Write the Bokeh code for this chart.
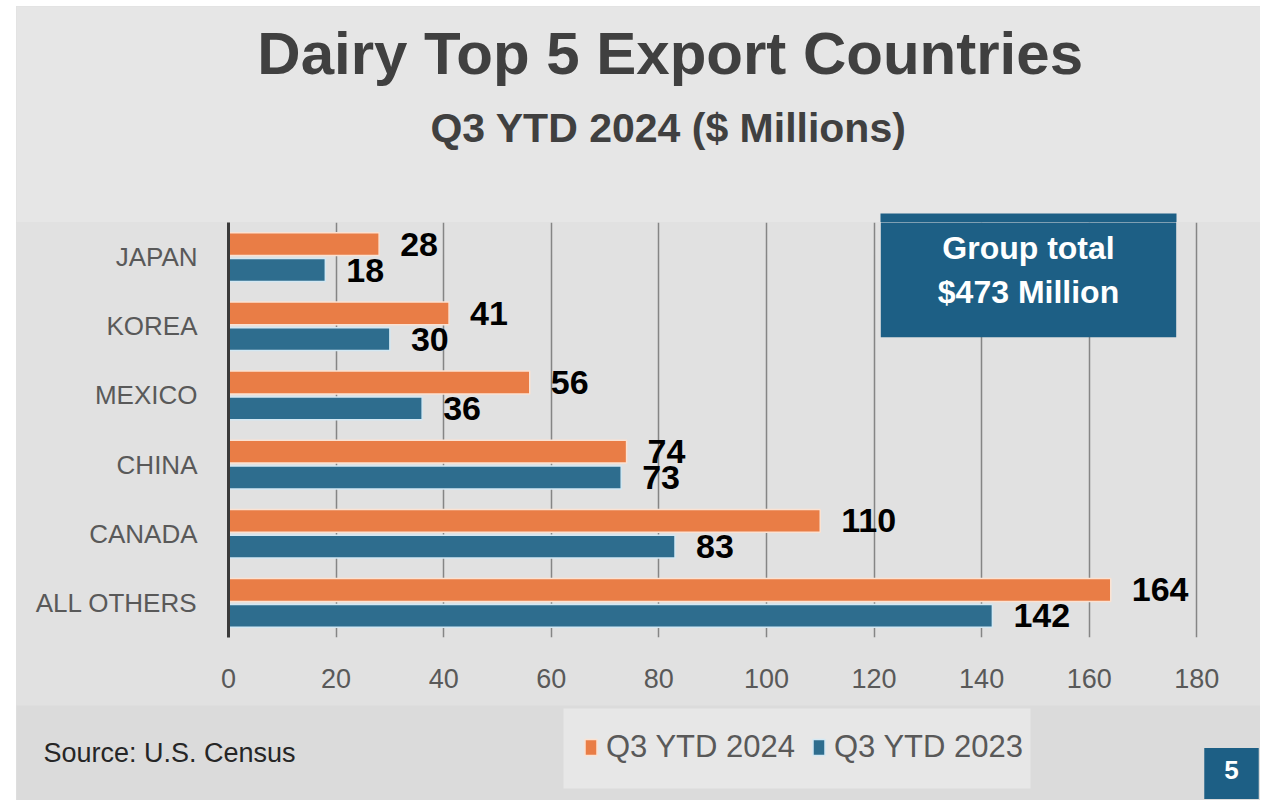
from bokeh.plotting import figure
from bokeh.layouts import column
from bokeh.models import (ColumnDataSource, FactorRange, Range1d, Label, Legend,
                          LegendItem, FixedTicker, BoxAnnotation)
from bokeh.transform import dodge
from bokeh.embed import file_html
from bokeh.resources import INLINE
from bokeh.core.properties import value

# ---- data ----
categories = ["JAPAN", "KOREA", "MEXICO", "CHINA", "CANADA", "ALL OTHERS"]
ytd_2024 = [28, 41, 56, 74, 110, 164]
ytd_2023 = [18, 30, 36, 73, 83, 142]
series_names = ["Q3 YTD 2024", "Q3 YTD 2023"]
x_ticks = [0, 20, 40, 60, 80, 100, 120, 140, 160, 180]
title_text = "Dairy  Top 5 Export Countries"
subtitle_text = "Q3 YTD 2024 ($ Millions)"
source_text = "Source: U.S. Census"
callout_text = "Group total\n$473 Million"
page_number = "5"

ORANGE = "#E97D46"
BLUE = "#2E6D8E"
DARKBLUE = "#1D5F85"
BG_TOP = "#e6e6e6"
BG_MID = "#e1e1e1"
BG_BOT = "#dbdbdb"
FONT = "Liberation Sans"
W = 1244

src = ColumnDataSource(dict(cat=categories, v24=ytd_2024, v23=ytd_2023,
                            l24=[str(v) for v in ytd_2024],
                            l23=[str(v) for v in ytd_2023]))


def blank(h, bg, **kw):
    f = figure(width=W, height=h, output_backend="svg", toolbar_location=None,
               x_axis_location=None, y_axis_location=None, min_border=0,
               frame_align=False, **kw)
    f.background_fill_color = bg
    f.border_fill_color = bg
    f.outline_line_color = None
    f.xgrid.visible = False
    f.ygrid.visible = False
    return f


# ---------- top: titles ----------
top = blank(216, BG_TOP, x_range=Range1d(0, 1), y_range=Range1d(0, 1))
top.add_layout(Label(x=662, y=169, x_units="screen", y_units="screen", text=title_text,
                     text_align="center", text_baseline="alphabetic",
                     text_font=FONT, text_font_style="bold", text_font_size="60px",
                     text_color="#404040"))
top.add_layout(Label(x=652, y=95, x_units="screen", y_units="screen", text=subtitle_text,
                     text_align="center", text_baseline="alphabetic",
                     text_font=FONT, text_font_style="bold", text_font_size="41px",
                     text_color="#404040"))
# upper edge of the callout box, which rises slightly above the plot frame
top.add_layout(BoxAnnotation(left=864, right=1160, bottom=0, top=9,
                             left_units="screen", right_units="screen",
                             bottom_units="screen", top_units="screen",
                             fill_color=DARKBLUE, fill_alpha=1, line_color=None))

# ---------- main chart ----------
p = figure(width=W, height=483, output_backend="svg", toolbar_location=None,
           y_range=FactorRange(factors=categories[::-1], range_padding=0),
           x_range=Range1d(0, 180.5), frame_align=False,
           min_border_left=212, min_border_right=61, min_border_top=0,
           min_border_bottom=68)
p.background_fill_color = BG_MID
p.border_fill_color = BG_MID
p.outline_line_color = None

r24 = p.hbar(y=dodge("cat", 0.187, range=p.y_range), right="v24", height=0.33,
             source=src, fill_color=ORANGE, line_color="#fbe2d2", line_width=1.5)
r23 = p.hbar(y=dodge("cat", -0.187, range=p.y_range), right="v23", height=0.33,
             source=src, fill_color=BLUE, line_color="#d3e8f3", line_width=1.5)

p.text(x="v24", y=dodge("cat", 0.187, range=p.y_range), text="l24", source=src,
       x_offset=21, text_baseline="middle", text_align="left",
       text_font=value(FONT), text_font_style="bold", text_font_size="34px",
       text_color="#000000")
p.text(x="v23", y=dodge("cat", -0.187, range=p.y_range), text="l23", source=src,
       x_offset=21, text_baseline="middle", text_align="left",
       text_font=value(FONT), text_font_style="bold", text_font_size="34px",
       text_color="#000000")

p.xaxis.ticker = FixedTicker(ticks=x_ticks)
p.xaxis.axis_line_color = None
p.xaxis.major_tick_line_color = None
p.xaxis.minor_tick_line_color = None
p.xaxis.major_tick_out = 0
p.xaxis.major_label_standoff = 31
p.xaxis.major_label_text_font = FONT
p.xaxis.major_label_text_font_size = "27px"
p.xaxis.major_label_text_color = "#595959"

p.yaxis.axis_line_color = "#3a3a3a"
p.yaxis.axis_line_width = 3
p.yaxis.major_tick_line_color = None
p.yaxis.major_tick_out = 0
p.yaxis.major_label_standoff = 31
p.yaxis.major_label_text_font = FONT
p.yaxis.major_label_text_font_size = "26px"
p.yaxis.major_label_text_color = "#595959"

p.xgrid.ticker = FixedTicker(ticks=x_ticks[1:])
p.xgrid.grid_line_color = "#858585"
p.xgrid.grid_line_width = 1.5
p.ygrid.visible = False

p.add_layout(Label(x=800, y=362, x_units="screen", y_units="screen", text=callout_text,
                   text_align="center", text_baseline="middle",
                   text_font=FONT, text_font_style="bold", text_font_size="32px",
                   text_color="#ffffff", text_line_height=1.23,
                   background_fill_color=DARKBLUE, background_fill_alpha=1,
                   padding=dict(left=57, right=57, top=16, bottom=27)))

# ---------- bottom: legend, source, page number ----------
bot = blank(95, BG_BOT, x_range=Range1d(0, 180),
            y_range=FactorRange(factors=categories[::-1], range_padding=0))
bot.add_layout(BoxAnnotation(left=547, right=1014, bottom=12, top=92,
                             left_units="screen", right_units="screen",
                             bottom_units="screen", top_units="screen",
                             fill_color="#e7e7e7", fill_alpha=1, line_color=None))
# legend swatches come from the same series (renderers hidden in this panel)
k24 = bot.hbar(y="cat", right="v24", height=0.33, source=src, fill_color=ORANGE,
               line_color="#fbe2d2", line_width=1.5, visible=False)
k23 = bot.hbar(y="cat", right="v23", height=0.33, source=src, fill_color=BLUE,
               line_color="#d3e8f3", line_width=1.5, visible=False)
legend = Legend(items=[LegendItem(label=series_names[0], renderers=[k24]),
                       LegendItem(label=series_names[1], renderers=[k23])],
                orientation="horizontal", location=(567, 35),
                background_fill_alpha=0,
                border_line_color=None, label_text_font=FONT,
                label_text_font_size="31px", label_text_color="#595959",
                glyph_width=15, glyph_height=20, label_standoff=8, spacing=16,
                padding=22, margin=0, inactive_fill_alpha=0)
bot.add_layout(legend, "center")
bot.add_layout(Label(x=27, y=48, x_units="screen", y_units="screen", text=source_text,
                     text_align="left", text_baseline="alphabetic",
                     text_font=FONT, text_font_size="27px", text_color="#262626"))
bot.add_layout(Label(x=1215, y=27, x_units="screen", y_units="screen", text=page_number,
                     text_align="center", text_baseline="middle",
                     text_font=FONT, text_font_style="bold", text_font_size="26px",
                     text_color="#ffffff",
                     background_fill_color=DARKBLUE, background_fill_alpha=1,
                     padding=dict(left=20, right=20, top=13, bottom=20)))

layout = column(top, p, bot, spacing=0, margin=(6, 0, 0, 16),
                styles={"background-color": BG_MID})
open("out.html", "w").write(file_html(layout, INLINE))
